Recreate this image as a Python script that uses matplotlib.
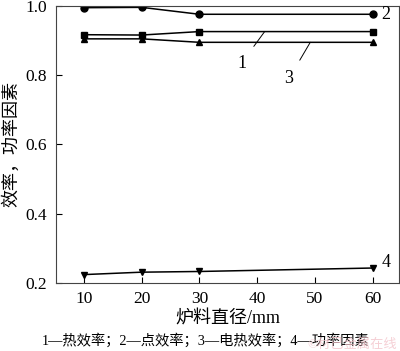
import matplotlib
matplotlib.use('Agg')
import matplotlib.pyplot as plt

plt.rcParams['font.family'] = ['Liberation Serif', 'Noto Sans CJK SC']

# 数据
diam = [10, 20, 30, 60]
heat_eff = [0.917, 0.916, 0.926, 0.926]      # 1 热效率
point_eff = [0.995, 0.996, 0.976, 0.976]     # 2 点效率
elec_eff = [0.905, 0.905, 0.895, 0.895]      # 3 电热效率
power_factor = [0.224, 0.231, 0.233, 0.243]  # 4 功率因素

xticks = [10, 20, 30, 40, 50, 60]
yticks = [0.2, 0.4, 0.6, 0.8, 1.0]

fig = plt.figure(figsize=(4.0, 3.51), dpi=100)
ax = fig.add_axes([0.139, 0.194, 0.859, 0.789])

lw = 1.1
ax.plot(diam, heat_eff, color='black', lw=lw, marker='s', ms=5)
ax.plot(diam, point_eff, color='black', lw=lw, marker='o', ms=5)
ax.plot(diam, elec_eff, color='black', lw=lw, marker='^', ms=5)
ax.plot(diam, power_factor, color='black', lw=lw, marker='v', ms=5)

ax.set_xlim(5.1, 64.6)
ax.set_ylim(0.2, 1.0)
ax.set_xticks(xticks)
ax.set_yticks(yticks)
ax.set_yticklabels(['0.2', '0.4', '0.6', '0.8', '1.0'])
ax.tick_params(direction='in', length=4, width=0.8, labelsize=12.5, pad=6)
for s in ax.spines.values():
    s.set_linewidth(0.8)
    s.set_color('#444444')

# 曲线标注
ax.text(61.5, point_eff[-1], '2', fontsize=13, va='center', ha='left')
ax.text(61.5, power_factor[-1] + 0.015, '4', fontsize=13, va='center', ha='left')
ax.annotate('1', xy=(41.3, heat_eff[-1]), xytext=(37.3, 0.835), fontsize=13,
            ha='center', va='center',
            arrowprops=dict(arrowstyle='-', color='black', lw=0.7, shrinkA=6, shrinkB=0))
ax.annotate('3', xy=(49.2, elec_eff[-1]), xytext=(45.5, 0.79), fontsize=13,
            ha='center', va='center',
            arrowprops=dict(arrowstyle='-', color='black', lw=0.7, shrinkA=6, shrinkB=0))

ax.set_xlabel('炉料直径/mm', fontsize=13, labelpad=2)
ax.set_ylabel('效率，功率因素', fontsize=13, labelpad=4)

fig.text(0.515, 0.03, '1—热效率；2—点效率；3—电热效率；4—功率因素',
         ha='center', va='center', fontsize=10.3)
fig.text(0.88, 0.018, '©材已金属在线', ha='center', va='center',
         fontsize=9.5, color='#f3c4cb', alpha=0.8)

fig.savefig('out.png', dpi=100)
